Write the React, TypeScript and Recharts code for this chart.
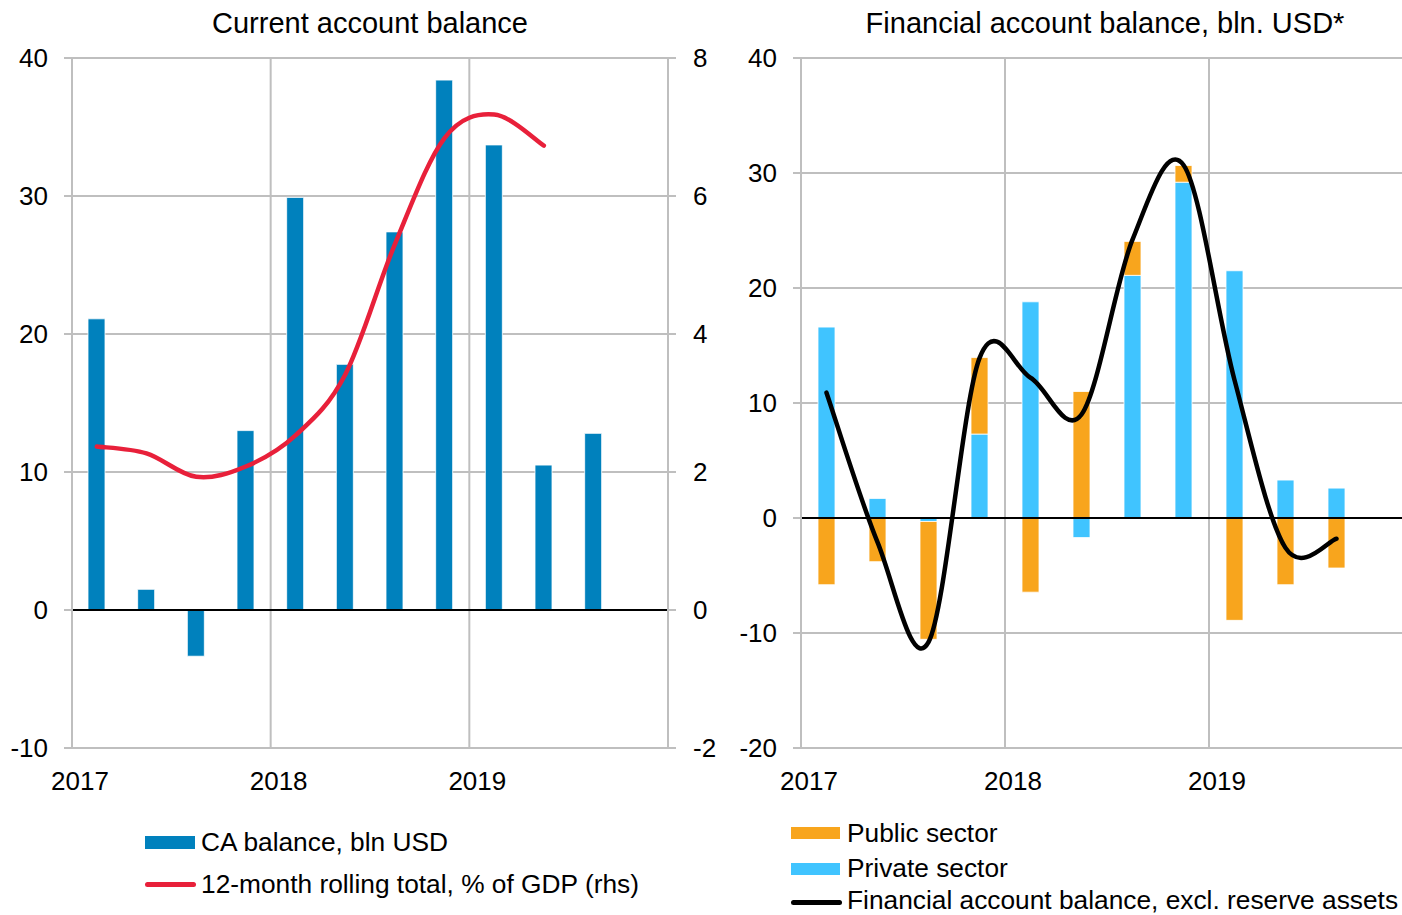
import { ComposedChart, Bar, Line, XAxis, YAxis, CartesianGrid, ReferenceLine } from 'recharts'

// quarterly data, 2017Q1 - 2019Q3
const quarters = ['2017Q1', '2017Q2', '2017Q3', '2017Q4', '2018Q1', '2018Q2', '2018Q3', '2018Q4', '2019Q1', '2019Q2', '2019Q3']

const caBalance = [21.1, 1.5, -3.35, 13.0, 29.9, 17.8, 27.4, 38.4, 33.7, 10.5, 12.8]
const caRolling = [2.37, 2.27, 1.93, 2.08, 2.53, 3.41, 5.3, 6.84, 7.18, 6.73]

const privateSector = [16.6, 1.7, -0.3, 7.3, 18.8, -1.7, 21.1, 29.2, 21.5, 3.3, 2.6]
const publicSector = [-5.8, -3.8, -10.25, 6.65, -6.45, 11.0, 2.95, 1.45, -8.9, -5.8, -4.35]
const financialBalance = [10.9, -2.1, -10.8, 13.9, 12.2, 9.0, 24.2, 30.7, 12.0, -2.6, -1.8]

const yearTicks = [0, 4, 8, 12]
const yearLabels = ['2017', '2018', '2019', '']

const caTicks = [-10, 0, 10, 20, 30, 40]
const rhsTicks = [-2, 0, 2, 4, 6, 8]
const faTicks = [-20, -10, 0, 10, 20, 30, 40]

const FONT = '"Liberation Sans", Arial, sans-serif'
const GRID = '#BFBFBF'

const caData = quarters.map((q, i) => ({
  x: i + 0.5,
  q,
  ca: caBalance[i],
  rolling: i < caRolling.length ? caRolling[i] : null,
}))

const faData = quarters.map((q, i) => ({
  x: i + 0.5,
  q,
  priv: privateSector[i],
  pub: publicSector[i],
  total: financialBalance[i],
}))

// Excel-style smoothed line (uniform Catmull-Rom as cubic beziers)
function smoothCurve(context: any) {
  let pts: [number, number][] = []
  return {
    areaStart() {},
    areaEnd() {},
    lineStart() {
      pts = []
    },
    lineEnd() {
      const n = pts.length
      if (!n) return
      context.moveTo(pts[0][0], pts[0][1])
      for (let i = 0; i < n - 1; i++) {
        const p0 = pts[Math.max(i - 1, 0)]
        const p1 = pts[i]
        const p2 = pts[i + 1]
        const p3 = pts[Math.min(i + 2, n - 1)]
        context.bezierCurveTo(
          p1[0] + (p2[0] - p0[0]) / 6,
          p1[1] + (p2[1] - p0[1]) / 6,
          p2[0] - (p3[0] - p1[0]) / 6,
          p2[1] - (p3[1] - p1[1]) / 6,
          p2[0],
          p2[1],
        )
      }
    },
    point(x: number, y: number) {
      pts.push([x, y])
    },
  }
}

function YearTick({ x, y, payload }: any) {
  const label = yearLabels[yearTicks.indexOf(payload.value)]
  return (
    <text x={x + 8} y={y + 33} dy="0.35em" textAnchor="middle" fontSize={26} fontFamily={FONT} fill="#000">
      {label}
    </text>
  )
}

const tickStyle = { fontSize: 26, fontFamily: FONT, fill: '#000' }

function Title({ left, width, text }: { left: number; width: number; text: string }) {
  return (
    <div style={{ position: 'absolute', left, top: 6, width, textAlign: 'center', fontSize: 29, lineHeight: '34px', fontFamily: FONT, whiteSpace: 'nowrap' }}>
      {text}
    </div>
  )
}

function LegendItem({ left, cy, swatch, label }: { left: number; cy: number; swatch: any; label: string }) {
  return (
    <>
      <div style={{ position: 'absolute', left, ...swatch }} />
      <div style={{ position: 'absolute', left: left + 56, top: cy - 12, lineHeight: '24px', fontSize: 26.3, fontFamily: FONT, whiteSpace: 'nowrap' }}>
        {label}
      </div>
    </>
  )
}

export default function App() {
  return (
    <div style={{ position: 'absolute', left: 0, top: 0, width: 1402, height: 915, overflow: 'hidden', background: '#fff' }}>
      <Title left={0} width={740} text="Current account balance" />
      <Title left={740} width={730} text="Financial account balance, bln. USD*" />

      <div style={{ position: 'absolute', left: 0, top: 0 }}>
        <ComposedChart width={740} height={808} data={caData} margin={{ top: 58, right: 0, bottom: 0, left: 0 }}>
          <CartesianGrid yAxisId="left" stroke={GRID} strokeWidth={2} />
          <XAxis dataKey="x" type="number" domain={[0, 12]} ticks={yearTicks} tick={<YearTick />} axisLine={false} tickLine={false} tickSize={0} tickMargin={0} height={60} interval={0} />
          <YAxis yAxisId="left" domain={[-10, 40]} ticks={caTicks} width={72} tick={tickStyle} tickSize={8} tickMargin={16} axisLine={{ stroke: GRID, strokeWidth: 2 }} tickLine={{ stroke: GRID, strokeWidth: 2 }} interval={0} />
          <YAxis yAxisId="right" orientation="right" domain={[-2, 8]} ticks={rhsTicks} width={72} tick={tickStyle} tickSize={8} tickMargin={17} axisLine={{ stroke: GRID, strokeWidth: 2 }} tickLine={{ stroke: GRID, strokeWidth: 2 }} interval={0} />
          <Bar yAxisId="left" dataKey="ca" fill="#0081BD" stroke="#fff" strokeWidth={0.8} barSize={17} isAnimationActive={false} />
          <ReferenceLine yAxisId="left" y={0} stroke="#000" strokeWidth={2} />
          <Line yAxisId="right" dataKey="rolling" type={smoothCurve as any} stroke="#E8203A" strokeWidth={4.5} strokeLinecap="round" dot={false} connectNulls={false} isAnimationActive={false} />
        </ComposedChart>
      </div>

      <div style={{ position: 'absolute', left: 740, top: 0 }}>
        <ComposedChart width={673} height={808} data={faData} stackOffset="sign" margin={{ top: 58, right: 0, bottom: 0, left: 0 }}>
          <CartesianGrid stroke={GRID} strokeWidth={2} />
          <XAxis dataKey="x" type="number" domain={[0, 12]} ticks={yearTicks} tick={<YearTick />} axisLine={false} tickLine={false} tickSize={0} tickMargin={0} height={60} interval={0} />
          <YAxis domain={[-20, 40]} ticks={faTicks} width={61} tick={tickStyle} tickSize={8} tickMargin={16} axisLine={{ stroke: GRID, strokeWidth: 2 }} tickLine={{ stroke: GRID, strokeWidth: 2 }} interval={0} />
          <Bar dataKey="priv" stackId="fa" fill="#40C4FF" stroke="#fff" strokeWidth={0.8} barSize={17} isAnimationActive={false} />
          <Bar dataKey="pub" stackId="fa" fill="#F8A51D" stroke="#fff" strokeWidth={0.8} barSize={17} isAnimationActive={false} />
          <ReferenceLine y={0} stroke="#000" strokeWidth={2} />
          <Line dataKey="total" type={smoothCurve as any} stroke="#000" strokeWidth={4.5} strokeLinecap="round" dot={false} isAnimationActive={false} />
        </ComposedChart>
      </div>

      <LegendItem left={145} cy={842} swatch={{ top: 836, width: 50, height: 13, background: '#0081BD' }} label="CA balance, bln USD" />
      <LegendItem left={145} cy={884} swatch={{ top: 882, width: 51, height: 5, borderRadius: 3, background: '#E8203A' }} label="12-month rolling total, % of GDP (rhs)" />

      <LegendItem left={791} cy={833} swatch={{ top: 827, width: 49, height: 12, background: '#F8A51D' }} label="Public sector" />
      <LegendItem left={791} cy={868} swatch={{ top: 863, width: 49, height: 12, background: '#40C4FF' }} label="Private sector" />
      <LegendItem left={791} cy={900} swatch={{ top: 900, width: 51, height: 5, borderRadius: 3, background: '#000' }} label="Financial account balance, excl. reserve assets" />
    </div>
  )
}
